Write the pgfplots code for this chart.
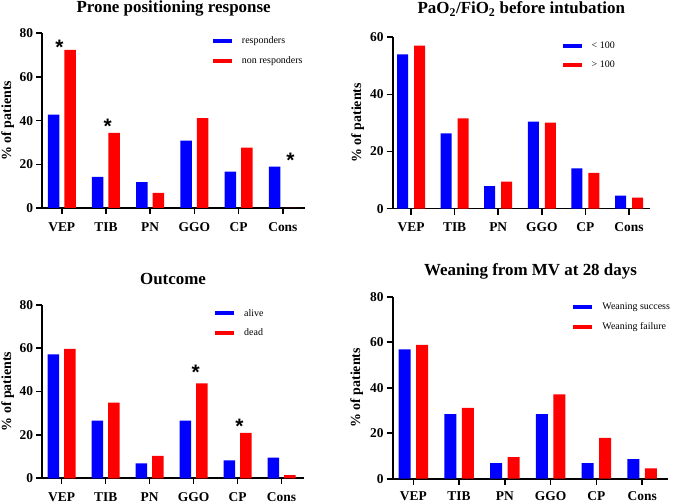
\documentclass[border=0pt]{standalone}
\usepackage{pgfplots}
\pgfplotsset{compat=1.18}
\usepackage{fontspec}
\setmainfont{Liberation Serif}
\newfontfamily\sansb{Liberation Sans}
\definecolor{bblue}{RGB}{0,0,255}
\definecolor{rred}{RGB}{255,0,0}

\pgfplotsset{
 ybar legend/.style={legend image code/.code={\fill[##1] (0bp,-2bp) rectangle (19bp,2bp); \path (29bp,0bp);}},
 panel/.style={
  scale only axis,
  axis x line=bottom, axis y line=left,
  axis line style={line width=1.6bp, -},
  major tick style={line width=1.6bp, black},
  tick align=outside, major tick length=6bp,
  xtick={0,...,5},
  xticklabels={VEP,TIB,PN,GGO,CP,Cons},
  ymin=0,
  enlarge x limits=false,
  tick label style={font=\fontsize{13.5}{14}\selectfont\bfseries},
  /pgf/number format/assume math mode=true,
  xticklabel style={inner sep=0pt, anchor=north, yshift=-8bp},
  yticklabel style={inner sep=0pt, anchor=east, xshift=-3bp},
  legend style={draw=none, fill=none, font=\fontsize{10}{12}\selectfont, inner sep=0pt, row sep=11bp, legend cell align=left, anchor=north west,
    nodes={inner sep=0pt}},
 },
}
\tikzset{ast/.style={font=\fontsize{21}{21}\selectfont\sansb\bfseries, yshift=-4bp}}
\newcommand{\ttl}[1]{\fontsize{17}{18}\selectfont\bfseries #1}
\newcommand{\ylab}{\fontsize{14}{15}\selectfont\bfseries \% of patients}

\begin{document}
\begin{tikzpicture}
\useasboundingbox (0bp,0bp) rectangle (676bp,503bp);

% ---------- Panel 1 ----------
\begin{axis}[panel, ybar=5bp, bar width=11.5bp,
  at={(42.3bp,295bp)}, anchor=south west, width=262.7bp, height=174.7bp,
  xmin=-0.44, xmax=5.5, ymax=80, ytick={0,20,40,60,80},
  legend style={at={(rel axis cs:0.649,0.98)}}]
\addplot[fill=bblue, draw=none] coordinates {(0,42.8) (1,14.2) (2,11.8) (3,30.9) (4,16.6) (5,18.9)};
\addplot[fill=rred, draw=none] coordinates {(0,72.4) (1,34.4) (2,6.9) (3,41.2) (4,27.6) (5,0)};
\addlegendentry{responders}
\addlegendentry{non responders}
\node[ast] at (axis cs:-0.05,75.4) {*};
\node[ast] at (axis cs:1.04,39.3) {*};
\node[ast] at (axis cs:5.17,23.8) {*};
\end{axis}
\node[anchor=base] at (173.6bp,490.3bp) {\ttl{Prone positioning response}};
\node[anchor=base, rotate=90] at (11bp,382.3bp) {\ylab};

% ---------- Panel 2 ----------
\begin{axis}[panel, ybar=6bp, bar width=11bp,
  at={(392.7bp,294.3bp)}, anchor=south west, width=257.3bp, height=171.4bp,
  xmin=-0.42, xmax=5.48, ymax=60, ytick={0,20,40,60},
  legend style={at={(rel axis cs:0.66,0.975)}}]
\addplot[fill=bblue, draw=none] coordinates {(0,54.0) (1,26.4) (2,7.9) (3,30.5) (4,14.1) (5,4.6)};
\addplot[fill=rred, draw=none] coordinates {(0,57.1) (1,31.6) (2,9.5) (3,30.1) (4,12.5) (5,3.9)};
\addlegendentry{< 100}
\addlegendentry{> 100}
\end{axis}
\node[anchor=base] at (521.3bp,489.5bp) {\ttl{PaO\textsubscript{2}/FiO\textsubscript{2} before intubation}};
\node[anchor=base, rotate=90] at (361bp,380bp) {\ylab};

% ---------- Panel 3 ----------
\begin{axis}[panel, ybar=5bp, bar width=11.5bp,
  at={(42.3bp,24.7bp)}, anchor=south west, width=261.7bp, height=173.6bp,
  xmin=-0.44, xmax=5.51, ymax=80, ytick={0,20,40,60,80},
  legend style={at={(rel axis cs:0.66,0.975)}}]
\addplot[fill=bblue, draw=none] coordinates {(0,57.1) (1,26.6) (2,6.9) (3,26.6) (4,8.3) (5,9.5)};
\addplot[fill=rred, draw=none] coordinates {(0,59.6) (1,34.9) (2,10.3) (3,43.8) (4,20.9) (5,1.5)};
\addlegendentry{alive}
\addlegendentry{dead}
\node[ast] at (axis cs:3.05,50.7) {*};
\node[ast] at (axis cs:4.04,25.8) {*};
\end{axis}
\node[anchor=base] at (173bp,218.7bp) {\ttl{Outcome}};
\node[anchor=base, rotate=90] at (11bp,111.5bp) {\ylab};

% ---------- Panel 4 ----------
\begin{axis}[panel, ybar=5.5bp, bar width=12bp,
  at={(392.7bp,24.3bp)}, anchor=south west, width=275.6bp, height=182bp,
  xmin=-0.45, xmax=5.57, ymax=80, ytick={0,20,40,60,80},
  xticklabel style={yshift=1bp},
  legend style={at={(rel axis cs:0.655,0.965)}}]
\addplot[fill=bblue, draw=none] coordinates {(0,56.8) (1,28.4) (2,6.9) (3,28.4) (4,6.9) (5,8.6)};
\addplot[fill=rred, draw=none] coordinates {(0,58.8) (1,31.1) (2,9.5) (3,37.1) (4,18.0) (5,4.5)};
\addlegendentry{Weaning success}
\addlegendentry{Weaning failure}
\end{axis}
\node[anchor=base] at (530.5bp,227bp) {\ttl{Weaning from MV at 28 days}};
\node[anchor=base, rotate=90] at (360bp,115bp) {\ylab};
\end{tikzpicture}
\end{document}
